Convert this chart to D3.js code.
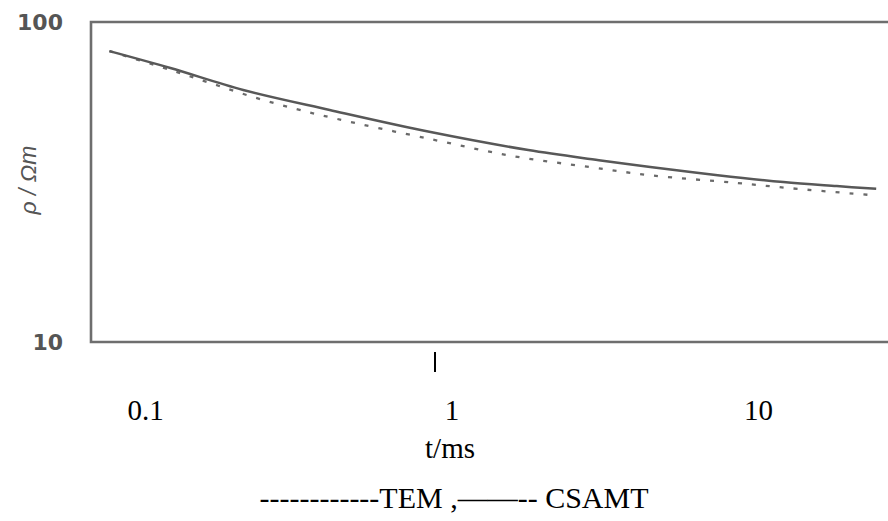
<!DOCTYPE html>
<html>
<head>
<meta charset="utf-8">
<script src="https://cdn.jsdelivr.net/npm/d3@7"></script>
<style>
  html, body { margin: 0; padding: 0; background: #fff; }
  svg { display: block; }
</style>
</head>
<body>
<svg id="chart" width="888" height="521"></svg>
<script>
// ---- data ----
const csamtT = [0.086, 0.136, 0.235, 0.45, 0.96, 2.0, 3.4, 5.0, 8.3, 13.6, 20.3, 27.3];
const csamtRho = [81.1, 71.8, 61.3, 53.1, 45.3, 39.8, 37.0, 35.2, 33.2, 31.6, 30.7, 30.1];
const temT = [0.086, 0.136, 0.183, 0.253, 0.349, 0.475, 0.956, 1.78, 3.18, 5.0, 9.6, 15.1, 26.1];
const temRho = [81.1, 70.8, 64.5, 58.3, 53.5, 49.8, 43.1, 38.1, 35.2, 33.2, 31.4, 30.1, 28.8];
const xTickValues = [0.1, 1, 10];
const xTickLabels = ["0.1", "1", "10"];
const yTickValues = [10, 100];
const yTickLabels = ["10", "100"];
const xTitle = "t/ms";
const yTitle = "ρ / Ωm";
const legendText = "------------TEM ,——-- CSAMT";

// ---- layout ----
const svg = d3.select("#chart");
const mLeft = 91, mTop = 22, mBottom = 342, mRight = 888;

const x = d3.scaleLog().domain([0.1, 10]).range([129.5, 742.5]);
const y = d3.scaleLog().domain([10, 100]).range([mBottom, mTop]);

const grey = "#6e6e6e";

const line = d3.line()
  .x(d => x(d[0]))
  .y(d => y(d[1]))
  .curve(d3.curveCatmullRom.alpha(0.5));

const csamt = csamtT.map((t, i) => [t, csamtRho[i]]);
const tem = temT.map((t, i) => [t, temRho[i]]);

svg.append("path")
  .datum(tem)
  .attr("d", line)
  .attr("fill", "none")
  .attr("stroke", "#6a6a6a")
  .attr("stroke-width", 2.3)
  .attr("stroke-dasharray", "4,10");

svg.append("path")
  .datum(csamt)
  .attr("d", line)
  .attr("fill", "none")
  .attr("stroke", "#585858")
  .attr("stroke-width", 2.5);

// frame
svg.append("path")
  .attr("d", `M${mRight},${mTop}H${mLeft}V${mBottom}H${mRight}`)
  .attr("fill", "none")
  .attr("stroke", grey)
  .attr("stroke-width", 2.6);

// y tick labels
svg.selectAll(".ylab")
  .data(yTickValues)
  .enter().append("text")
  .attr("x", 63)
  .attr("y", d => y(d))
  .attr("dy", "0.36em")
  .attr("text-anchor", "end")
  .attr("font-family", "DejaVu Sans, Arial, sans-serif")
  .attr("font-weight", "bold")
  .attr("font-size", 22)
  .attr("fill", "#555")
  .text((d, i) => yTickLabels[i]);

// single tick mark at 1
svg.append("line")
  .attr("x1", x(1) - 1).attr("x2", x(1) - 1)
  .attr("y1", 352).attr("y2", 372)
  .attr("stroke", "#000")
  .attr("stroke-width", 2);

// x tick labels
svg.selectAll(".xlab")
  .data(xTickValues)
  .enter().append("text")
  .attr("x", d => x(d) + 16)
  .attr("y", 420)
  .attr("text-anchor", "middle")
  .attr("font-family", "Liberation Serif, Times New Roman, serif")
  .attr("font-size", 29)
  .attr("fill", "#000")
  .text((d, i) => xTickLabels[i]);

// x title
svg.append("text")
  .attr("x", 450)
  .attr("y", 458)
  .attr("text-anchor", "middle")
  .attr("font-family", "Liberation Serif, Times New Roman, serif")
  .attr("font-size", 29)
  .attr("fill", "#000")
  .text(xTitle);

// y title
svg.append("text")
  .attr("transform", "translate(36,180) rotate(-90)")
  .attr("text-anchor", "middle")
  .attr("font-family", "Liberation Sans, Arial, sans-serif")
  .attr("font-style", "italic")
  .attr("font-size", 23)
  .attr("fill", "#555")
  .text(yTitle);

// legend line
svg.append("text")
  .attr("x", 454)
  .attr("y", 508)
  .attr("text-anchor", "middle")
  .attr("font-family", "Liberation Serif, Times New Roman, serif")
  .attr("font-size", 30)
  .attr("fill", "#000")
  .text(legendText);
</script>
</body>
</html>
